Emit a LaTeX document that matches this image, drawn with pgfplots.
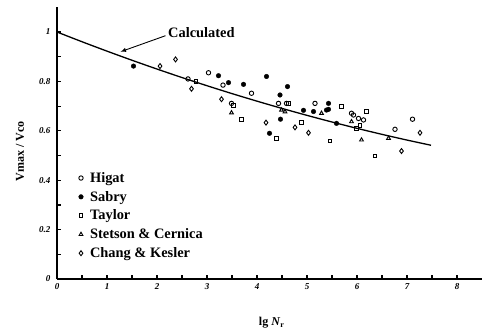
\documentclass[border=0pt]{standalone}
\usepackage{pgfplots}
\pgfplotsset{compat=1.18}
\usepackage{fontspec}
\setmainfont{Liberation Serif}
\begin{document}
\begin{tikzpicture}[x=1pt,y=1pt]
\useasboundingbox (0,0) rectangle (484,335);
\begin{axis}[
  at={(57pt,56pt)}, anchor=south west,
  scale only axis, width=425pt, height=271.7pt,
  xmin=0, xmax=8.5, ymin=0, ymax=1.1,
  axis x line*=bottom, axis y line*=left,
  axis line style={line width=1.6pt,-},
  xtick={0,1,2,3,4,5,6,7,8},
  minor xtick={0.5,1.5,2.5,3.5,4.5,5.5,6.5,7.5},
  ytick={0,0.2,0.4,0.6,0.8,1},
  yticklabels={0,0.2,0.4,0.6,0.8,1},
  minor ytick={0.1,0.3,0.5,0.7,0.9},
  tick align=inside,
  major tick length=4pt, minor tick length=4pt,
  tick style={line width=1.2pt,black},
  ticklabel style={font=\small\itshape\bfseries},
  /pgf/number format/assume math mode=true,
  xticklabel style={yshift=-1pt},
  yticklabel style={xshift=-3pt},
  xlabel={\bfseries lg \textit{N}\textsubscript{r}},
  xlabel style={at={(axis description cs:0.505,-0.162)},anchor=center,font=\large},
  ylabel={\bfseries Vmax / Vco},
  ylabel style={at={(axis description cs:-0.087,0.471)},anchor=center,font=\large},
  legend style={at={(axis cs:0.37,0.447)}, anchor=north west, draw=none, fill=none,
    font=\Large\bfseries, row sep=4.3pt, legend cell align=left,
    nodes={inner sep=1.5pt}},
  legend image code/.code={\draw[#1] plot coordinates {(0.3cm,0cm)};\path (0.55cm,0cm);},
]
\addplot[black, line width=1.3pt, smooth, forget plot] coordinates {
(0,1) (0.5,0.9606) (1,0.9225) (1.5,0.8856) (2,0.85) (2.5,0.8156) (3,0.7825)
(3.5,0.7506) (4,0.72) (4.5,0.6906) (5,0.6625) (5.5,0.6356) (6,0.61) (6.5,0.5856)
(7,0.5625) (7.48,0.5415)};
% Higat
\addplot[only marks, mark=o, mark size=2.2pt, black, line width=0.9pt] coordinates {
(2.62,0.81) (3.03,0.835) (3.32,0.785) (3.89,0.752) (4.43,0.711) (4.59,0.711)
(5.16,0.711) (5.89,0.671) (6.03,0.65) (6.13,0.644) (6.76,0.606) (7.11,0.647) (3.49,0.711) (5.93,0.664)};
% Sabry
\addplot[only marks, mark=*, mark size=2.3pt, black] coordinates {
(1.53,0.862) (3.23,0.823) (3.43,0.795) (3.73,0.788) (4.19,0.82) (4.46,0.745)
(4.61,0.779) (4.47,0.647) (4.25,0.59) (5.13,0.678) (5.43,0.711) (5.43,0.687)
(5.59,0.63) (4.93,0.683) (5.39,0.684)};
% Taylor
\addplot[only marks, mark=square, mark size=1.9pt, black, line width=0.9pt] coordinates {
(2.78,0.80) (3.53,0.704) (3.69,0.647) (4.39,0.57) (4.89,0.633) (5.46,0.559)
(5.69,0.70) (6.19,0.678) (6.06,0.623) (6.36,0.498) (5.99,0.61) (4.63,0.711)};
% Stetson & Cernica
\addplot[only marks, mark=triangle, mark size=2.2pt, black, line width=0.9pt] coordinates {
(3.49,0.673) (4.49,0.684) (4.56,0.677) (5.29,0.671) (6.09,0.563) (6.63,0.57) (5.89,0.637)};
% Chang & Kesler
\addplot[only marks, mark=diamond, mark size=2.5pt, black, line width=0.9pt] coordinates {
(2.06,0.862) (2.37,0.889) (2.69,0.77) (3.29,0.728) (4.18,0.633) (4.76,0.614)
(5.03,0.592) (6.89,0.518) (7.26,0.592)};
\legend{Higat, Sabry, Taylor, Stetson \& Cernica, Chang \& Kesler}
\node[anchor=west, font=\Large\bfseries, inner sep=1pt] at (axis cs:2.2,0.996) {Calculated};
\draw[-latex, line width=0.9pt] (axis cs:2.17,0.985) -- (axis cs:1.27,0.92);
\end{axis}
\end{tikzpicture}
\end{document}
